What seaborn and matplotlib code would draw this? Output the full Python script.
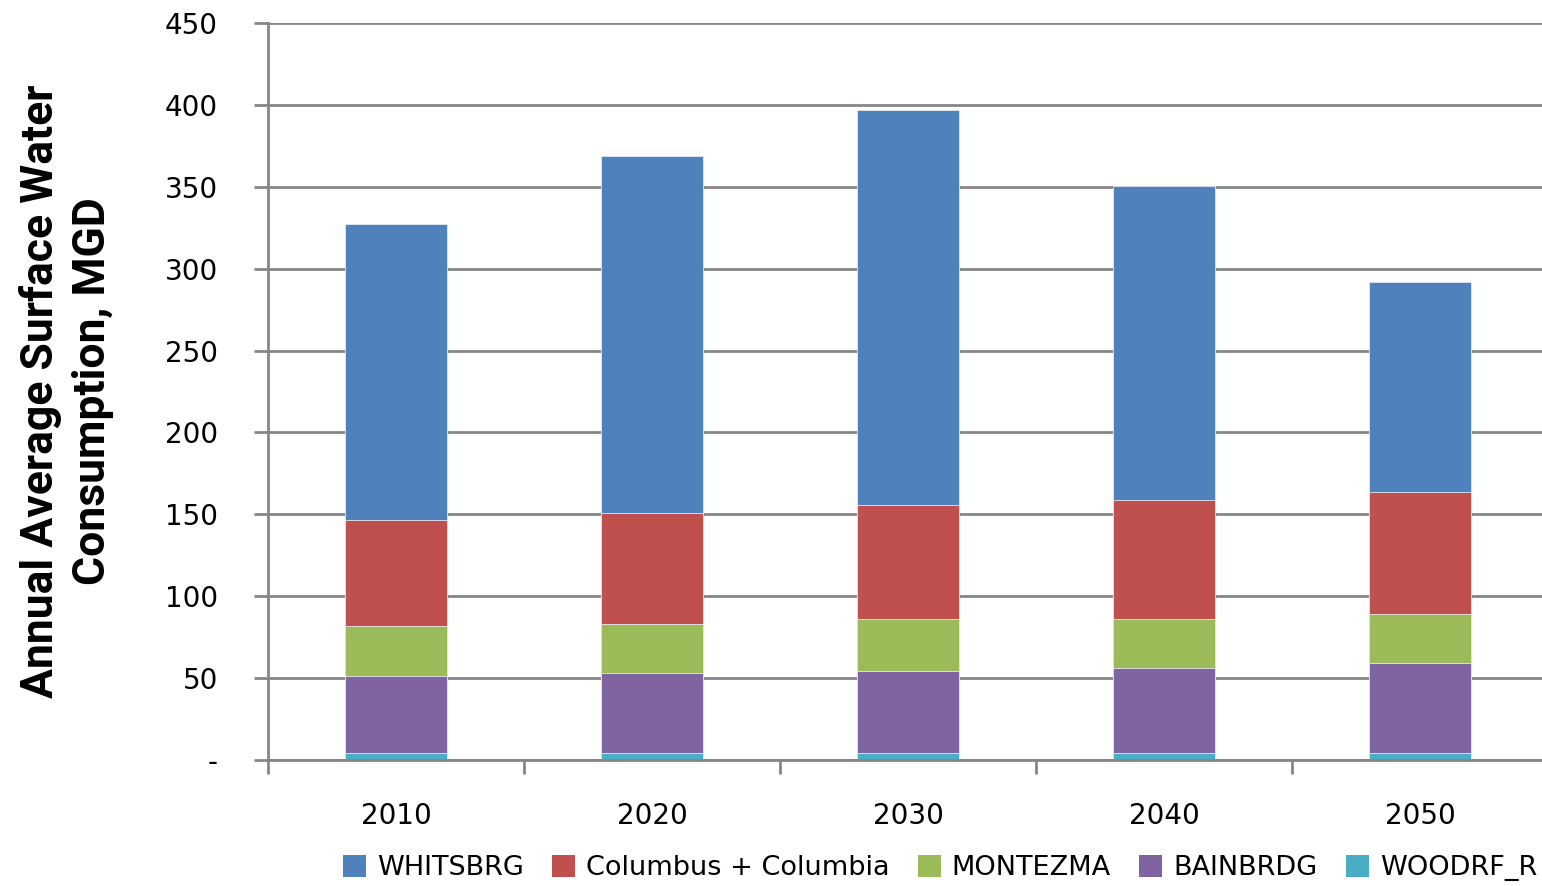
import numpy as np
import pandas as pd
import matplotlib
matplotlib.use("Agg")
import matplotlib.pyplot as plt
from matplotlib.patches import Patch
import seaborn as sns

sns.set_style("white")
plt.rcParams["font.family"] = ["DejaVu Sans"]
plt.rcParams["text.color"] = "black"
plt.rcParams["axes.labelcolor"] = "black"

# dados
anos = ["2010", "2020", "2030", "2040", "2050"]
series = ["WHITSBRG", "Columbus + Columbia", "MONTEZMA", "BAINBRDG", "WOODRF_R"]
whitsbrg = [180.7, 218.1, 240.9, 191.5, 128.0]
columbus = [64.7, 67.8, 69.4, 72.4, 74.3]
montezma = [30.3, 30.1, 32.2, 30.4, 30.3]
bainbrdg = [47.4, 48.8, 50.0, 51.8, 54.9]
woodrf_r = [4.1, 4.1, 4.1, 4.1, 4.1]
cores = ["#4F81BD", "#C0504D", "#9BBB59", "#8064A2", "#4BACC6"]

df = pd.DataFrame({
    "Ano": anos,
    "WOODRF_R": woodrf_r,
    "BAINBRDG": bainbrdg,
    "MONTEZMA": montezma,
    "Columbus + Columbia": columbus,
    "WHITSBRG": whitsbrg,
})
# somas acumuladas (de baixo para cima)
ordem_baixo = ["WOODRF_R", "BAINBRDG", "MONTEZMA", "Columbus + Columbia", "WHITSBRG"]
acum = df[ordem_baixo].cumsum(axis=1)
cor_de = dict(zip(series, cores))

fig = plt.figure(figsize=(15.42, 8.86), dpi=100)
ax = fig.add_axes([0.1738, 0.1422, 0.8301, 0.8318])

# desenha do topo para a base, sobrepondo as barras
for s in ordem_baixo[::-1]:
    sns.barplot(x=df["Ano"], y=acum[s], color=cor_de[s], width=0.4, saturation=1,
                edgecolor="#e4e9f2", linewidth=0.6, ax=ax, zorder=3)

ax.set_ylim(0, 450)
ax.set_xlim(-0.5, 4.5)
ax.set_yticks(np.arange(0, 451, 50))
ax.set_yticklabels(["-"] + [str(v) for v in range(50, 451, 50)])
ax.yaxis.grid(True, color="#868686", linewidth=2, zorder=0)
ax.set_axisbelow(True)

for lado in ["top", "right"]:
    ax.spines[lado].set_visible(False)
for lado in ["left", "bottom"]:
    ax.spines[lado].set_color("#868686")
    ax.spines[lado].set_linewidth(2)
    ax.spines[lado].set_zorder(5)

ax.tick_params(axis="y", which="major", direction="out", length=10, width=2,
               color="#868686", labelcolor="black", labelsize=20, pad=26, left=True)
ax.set_xticks(np.arange(-0.5, 4.6, 1), minor=True)
ax.tick_params(axis="x", which="minor", direction="out", length=10, width=2,
               color="#868686", bottom=True)
ax.tick_params(axis="x", which="major", length=0, labelsize=20, labelcolor="black", pad=30)

ax.set_xlabel("")
ax.set_ylabel("Annual Average Surface Water\nConsumption, MGD",
              fontsize=32, fontweight="bold",
              family=["Roboto", "DejaVu Sans"], linespacing=1.32)
ax.yaxis.set_label_coords(-0.12, 0.5)

handles = [Patch(facecolor=cor_de[s], edgecolor="none") for s in series]
fig.legend(handles, series, loc="lower center", bbox_to_anchor=(0.6096, -0.022),
           ncol=5, frameon=False, fontsize=19.5, handlelength=0.85, handleheight=0.85,
           handletextpad=0.4, columnspacing=1.05)

fig.savefig("out.png", dpi=100)
